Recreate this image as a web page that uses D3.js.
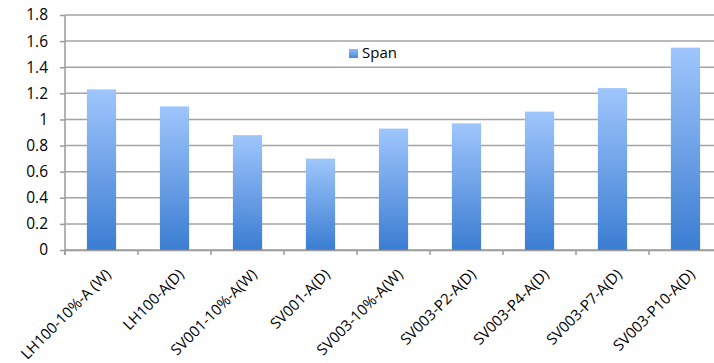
<!DOCTYPE html>
<html>
<head>
<meta charset="utf-8">
<script src="https://cdn.jsdelivr.net/npm/d3@7"></script>
<style>
  html, body { margin: 0; padding: 0; background: #fff; }
  svg { display: block; }
  text { font-family: "Open Sans", "Liberation Sans", sans-serif; fill: #000; }
</style>
</head>
<body>
<svg id="chart" width="714" height="363"></svg>
<script>
// Span per sample
const categories = ["LH100-10%-A (W)", "LH100-A(D)", "SV001-10%-A(W)", "SV001-A(D)",
  "SV003-10%-A(W)", "SV003-P2-A(D)", "SV003-P4-A(D)", "SV003-P7-A(D)", "SV003-P10-A(D)"];
const spanValues = [1.23, 1.10, 0.88, 0.70, 0.93, 0.97, 1.06, 1.24, 1.55];
const yTicks = [0, 0.2, 0.4, 0.6, 0.8, 1, 1.2, 1.4, 1.6, 1.8];
const seriesName = "Span";

const svg = d3.select("#chart");
const plotLeft = 65, plotRight = 722, plotTop = 15, plotBottom = 250;

const x = d3.scaleBand().domain(categories).range([plotLeft, plotRight]).paddingInner(0.6).paddingOuter(0.3);
const xTickScale = d3.scaleBand().domain(categories).range([plotLeft, plotRight]);
const y = d3.scaleLinear().domain([0, 1.8]).range([plotBottom, plotTop]);

const defs = svg.append("defs");
const grad = defs.append("linearGradient").attr("id", "barGrad")
  .attr("x1", 0).attr("y1", 0).attr("x2", 0).attr("y2", 1);
grad.append("stop").attr("offset", "0%").attr("stop-color", "#9fc6fc");
grad.append("stop").attr("offset", "100%").attr("stop-color", "#3b7dd2");
const lg = defs.append("linearGradient").attr("id", "legGrad")
  .attr("x1", 0).attr("y1", 0).attr("x2", 0).attr("y2", 1);
lg.append("stop").attr("offset", "0%").attr("stop-color", "#8fb9f5");
lg.append("stop").attr("offset", "100%").attr("stop-color", "#4a88db");
const blur = defs.append("filter").attr("id", "soft").attr("x", "-20%").attr("y", "-5%")
  .attr("width", "140%").attr("height", "110%");
blur.append("feGaussianBlur").attr("stdDeviation", 0.6);

// y axis with gridlines
const yAxis = d3.axisLeft(y).tickValues(yTicks).tickSize(5).tickPadding(12)
  .tickFormat(d => d3.format("~g")(d));
const yg = svg.append("g").attr("transform", `translate(${plotLeft},0)`).call(yAxis);
yg.select(".domain").attr("stroke", "#9a9a9a").attr("stroke-width", 1.5)
  .attr("d", `M0,${plotTop}V${plotBottom + 5}`);
yg.selectAll(".tick line").attr("stroke", "#9a9a9a").attr("stroke-width", 1.5);
yg.selectAll(".tick text").style("font-size", "15.5px").attr("fill", "#000");

svg.append("g").selectAll("line").data(yTicks).join("line")
  .attr("x1", plotLeft).attr("x2", 714)
  .attr("y1", d => y(d)).attr("y2", d => y(d))
  .attr("stroke", "#a3a3a3").attr("stroke-width", 1.5);

// bars
svg.append("g").selectAll("rect").data(spanValues).join("rect")
  .attr("x", (d, i) => x(categories[i]))
  .attr("y", d => y(d))
  .attr("width", x.bandwidth())
  .attr("height", d => y(0) - y(d))
  .attr("fill", "url(#barGrad)")
  .attr("filter", "url(#soft)");

// x axis
const xAxis = d3.axisBottom(xTickScale).tickSize(5).tickSizeOuter(0).tickFormat("");
const xg = svg.append("g").attr("transform", `translate(0,${plotBottom})`).call(xAxis);
xg.select(".domain").attr("stroke", "#9a9a9a").attr("stroke-width", 1.5);
xg.selectAll(".tick").attr("transform", d => `translate(${xTickScale(d)},0)`);
xg.selectAll(".tick line").attr("stroke", "#9a9a9a").attr("stroke-width", 1.5);

svg.append("g").selectAll("text").data(categories).join("text")
  .attr("transform", d => `translate(${x(d) + x.bandwidth() / 2 + 3},${plotBottom + 18}) rotate(-45)`)
  .attr("text-anchor", "end")
  .attr("dy", "0.7em")
  .style("font-size", "15px")
  .text(d => d);

// legend
const leg = svg.append("g").attr("transform", "translate(349,49)");
leg.append("rect").attr("width", 9).attr("height", 9).attr("fill", "url(#legGrad)");
leg.append("text").attr("x", 13).attr("y", 9).style("font-size", "15px").text(seriesName);
</script>
</body>
</html>
